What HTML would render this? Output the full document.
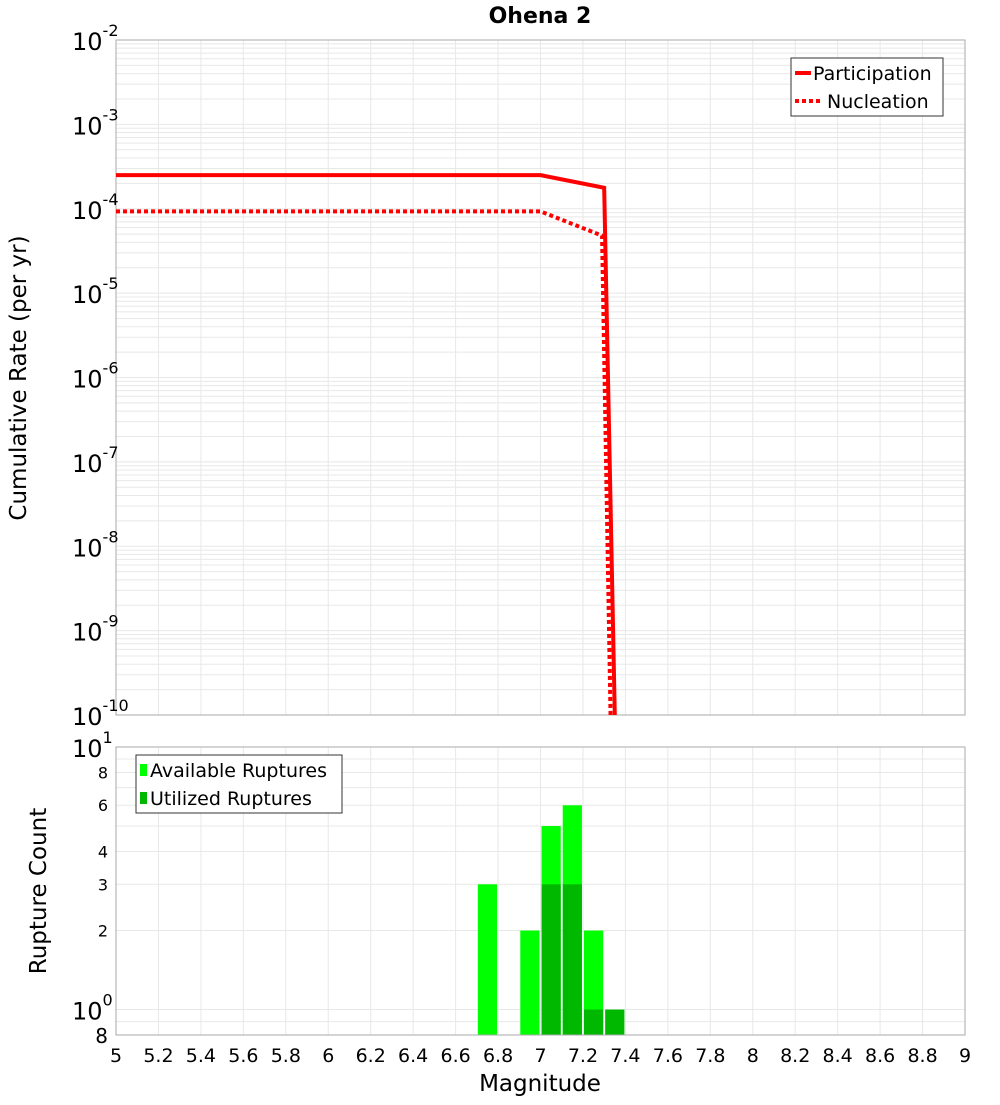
<!DOCTYPE html>
<html><head><meta charset="utf-8"><style>
body{margin:0;background:#fff;font-family:"Liberation Sans","DejaVu Sans",sans-serif}
svg text{font-family:"DejaVu Sans","Liberation Sans",sans-serif}
</style></head><body>
<svg id="chart" width="1000" height="1100" xmlns="http://www.w3.org/2000/svg"></svg>
<script>
const partMag=[5.0,7.0,7.3,7.35];
const partRate=[2.5e-4,2.5e-4,1.77e-4,1e-10];
const nuclMag=[5.0,7.0,7.29,7.33];
const nuclRate=[9.3e-5,9.3e-5,4.8e-5,1e-10];
const binStart=[6.7,6.9,7.0,7.1,7.2];
const availCount=[3,2,5,6,2];
const utilStart=[7.0,7.1,7.2,7.3];
const utilCount=[3,3,1,1];
const xTicks=[5,5.2,5.4,5.6,5.8,6,6.2,6.4,6.6,6.8,7,7.2,7.4,7.6,7.8,8,8.2,8.4,8.6,8.8,9];
const topDecades=[-2,-3,-4,-5,-6,-7,-8,-9,-10];
const botTicks=[8,6,4,3,2];

const svg=document.getElementById('chart');
const NS='http://www.w3.org/2000/svg';
function mk(tag,attrs,parent){const e=document.createElementNS(NS,tag);for(const k in attrs)e.setAttribute(k,attrs[k]);(parent||svg).appendChild(e);return e;}
const X0=116,X1=965;
const xs=m=>X0+(m-5)/4*(X1-X0);
const T0=40,T1=715;
const ys=v=>T0+(-2-Math.log10(v))/8*(T1-T0);
const B0=747,B1=1035;
const yb=v=>B0+(1-Math.log10(v))/(1-Math.log10(0.8))*(B1-B0);

let t=mk('text',{x:540,y:23,'text-anchor':'middle','font-size':22,'font-weight':'bold'});t.textContent='Ohena 2';


let g=mk('g',{});
for(let d=-10;d<-2;d++)for(let k=1;k<10;k++){const y=ys(k*Math.pow(10,d));mk('line',{x1:X0,x2:X1,y1:y,y2:y,stroke:'#e8e8e8','stroke-width':1},g);}
xTicks.forEach(m=>mk('line',{x1:xs(m),x2:xs(m),y1:T0,y2:T1,stroke:'#e8e8e8'},g));
let r=mk('rect',{x:X0,y:T0,width:X1-X0,height:T1-T0,fill:'none',stroke:'#aaa'});

topDecades.forEach(d=>{const y=ys(Math.pow(10,d));const tx=mk('text',{x:72,y:y+10,'font-size':24});

tx.innerHTML='10<tspan dy="-14" font-size="16">'+d+'</tspan>';});
t=mk('text',{transform:'translate(26,378) rotate(-90)','text-anchor':'middle','font-size':23});t.textContent='Cumulative Rate (per yr)';


let cp=mk('clipPath',{id:'cp'});mk('rect',{x:X0,y:T0,width:X1-X0,height:T1-T0},cp);
let pl=mk('polyline',{points:partMag.map((m,i)=>xs(m)+','+ys(partRate[i])).join(' '),fill:'none',stroke:'#f00','stroke-width':4,'clip-path':'url(#cp)'});

let nl=mk('polyline',{points:nuclMag.map((m,i)=>xs(m)+','+ys(nuclRate[i])).join(' '),fill:'none',stroke:'#f00','stroke-width':4,'stroke-dasharray':'4 3','clip-path':'url(#cp)'});


g=mk('g',{});
mk('rect',{x:791,y:58,width:152,height:58,fill:'#fff',stroke:'#333'},g);
mk('line',{x1:795,x2:811,y1:73,y2:73,stroke:'#f00','stroke-width':4},g);
mk('line',{x1:795,x2:823,y1:101,y2:101,stroke:'#f00','stroke-width':4,'stroke-dasharray':'4 3'},g);
t=mk('text',{x:813,y:80,'font-size':19},g);t.textContent='Participation';
t=mk('text',{x:827,y:108,'font-size':19},g);t.textContent='Nucleation';

g=mk('g',{});
[0.8,0.9,1,2,3,4,5,6,7,8,9,10].forEach(v=>mk('line',{x1:X0,x2:X1,y1:yb(v),y2:yb(v),stroke:'#e8e8e8'},g));
xTicks.forEach(m=>mk('line',{x1:xs(m),x2:xs(m),y1:B0,y2:B1,stroke:'#e8e8e8'},g));
binStart.forEach((m,i)=>{const b=mk('rect',{x:xs(m)+1,y:yb(availCount[i]),width:xs(m+0.1)-xs(m)-2,height:B1-yb(availCount[i]),fill:'#00ff00'});
});
utilStart.forEach((m,i)=>{const b=mk('rect',{x:xs(m)+1,y:yb(utilCount[i]),width:xs(m+0.1)-xs(m)-2,height:B1-yb(utilCount[i]),fill:'#00b800'});
});
r=mk('rect',{x:X0,y:B0,width:X1-X0,height:B1-B0,fill:'none',stroke:'#aaa'});

botTicks.forEach(v=>{const tx=mk('text',{x:108,y:yb(v)+6,'text-anchor':'end','font-size':16});tx.textContent=v;
});
[[10,'1'],[1,'0']].forEach(([v,e])=>{const tx=mk('text',{x:72,y:yb(v)+10,'font-size':24});

tx.innerHTML='10<tspan dy="-14" font-size="16">'+e+'</tspan>';});
t=mk('text',{x:108,y:1043,'text-anchor':'end','font-size':20});t.textContent='8';
t=mk('text',{transform:'translate(46,891) rotate(-90)','text-anchor':'middle','font-size':23});t.textContent='Rupture Count';

g=mk('g',{});
mk('rect',{x:136,y:755,width:206,height:58,fill:'#fff',stroke:'#333'},g);
mk('rect',{x:140,y:764,width:7,height:12,fill:'#00ff00'},g);
mk('rect',{x:140,y:792,width:7,height:12,fill:'#00b800'},g);
t=mk('text',{x:150,y:777,'font-size':19},g);t.textContent='Available Ruptures';
t=mk('text',{x:150,y:805,'font-size':19},g);t.textContent='Utilized Ruptures';
xTicks.forEach(m=>{const tx=mk('text',{x:xs(m),y:1062,'text-anchor':'middle','font-size':19});tx.textContent=m;
});
t=mk('text',{x:540,y:1091,'text-anchor':'middle','font-size':23});t.textContent='Magnitude';

</script>
</body></html>
